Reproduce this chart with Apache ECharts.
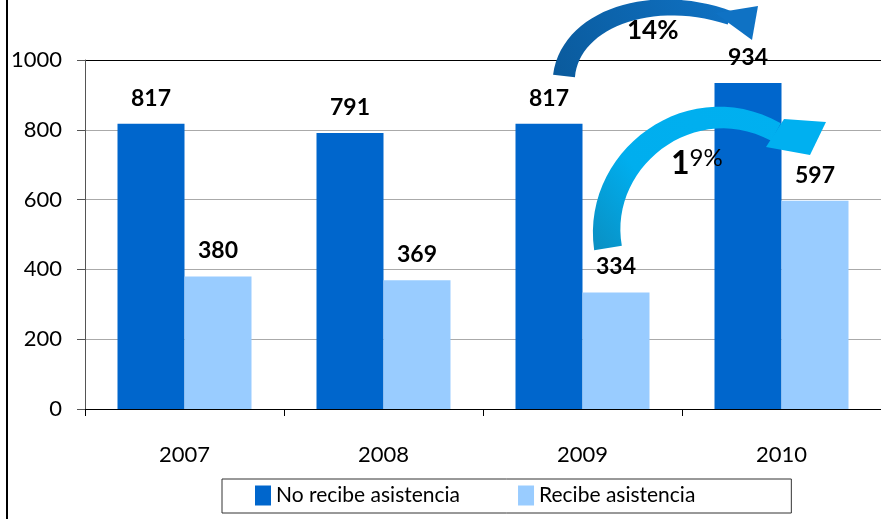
<!DOCTYPE html>
<html>
<head>
<meta charset="utf-8">
<script src="https://cdn.jsdelivr.net/npm/echarts@6/dist/echarts.min.js"></script>
<style>
  html, body { margin: 0; padding: 0; background: #fff; }
  #chart { width: 881px; height: 519px; }
</style>
</head>
<body>
<div id="chart"></div>
<script>
// data
const years = ['2007', '2008', '2009', '2010'];
const noRecibe = [817, 791, 817, 934];
const recibe = [380, 369, 334, 597];
const seriesNames = ['No recibe asistencia', 'Recibe asistencia'];
const yTicks = [0, 200, 400, 600, 800, 1000];

const FONT = 'Lato, "Liberation Sans", sans-serif';

// curved arrow band along a cubic bezier, widths tapering w0 -> w1
function band(p0, p1, p2, p3, w0, w1) {
  let left = [], right = [];
  const n = 30;
  for (let i = 0; i <= n; i++) {
    let t = i / n, u = 1 - t;
    let x = u*u*u*p0[0] + 3*u*u*t*p1[0] + 3*u*t*t*p2[0] + t*t*t*p3[0];
    let y = u*u*u*p0[1] + 3*u*u*t*p1[1] + 3*u*t*t*p2[1] + t*t*t*p3[1];
    let dx = 3*u*u*(p1[0]-p0[0]) + 6*u*t*(p2[0]-p1[0]) + 3*t*t*(p3[0]-p2[0]);
    let dy = 3*u*u*(p1[1]-p0[1]) + 6*u*t*(p2[1]-p1[1]) + 3*t*t*(p3[1]-p2[1]);
    let len = Math.sqrt(dx*dx + dy*dy) || 1;
    let w = (w0 + (w1 - w0) * t) / 2;
    let nx = -dy / len * w, ny = dx / len * w;
    left.push([x + nx, y + ny]);
    right.push([x - nx, y - ny]);
  }
  return left.concat(right.reverse());
}

let chart = echarts.init(document.getElementById('chart'));
let option = {
  animation: false,
  textStyle: { fontFamily: FONT },
  grid: { left: 85, right: -2, top: 60, bottom: 110 },
  legend: {
    left: 222, top: 479,
    padding: [6, 96, 7, 33],
    itemGap: 58,
    itemWidth: 16, itemHeight: 20,
    borderColor: '#333', borderWidth: 1,
    icon: 'rect',
    textStyle: { fontSize: 21, color: '#000', fontFamily: FONT },
    data: seriesNames
  },
  xAxis: {
    type: 'category',
    data: years,
    axisLine: { lineStyle: { color: '#000', width: 1 } },
    axisTick: { show: true, length: 7, lineStyle: { color: '#000' } },
    axisLabel: { fontSize: 22, color: '#000', margin: 35 }
  },
  yAxis: {
    type: 'value',
    min: yTicks[0], max: yTicks[yTicks.length - 1], interval: 200,
    axisLine: { show: true, lineStyle: { color: '#555' } },
    axisTick: { show: true, length: 8, lineStyle: { color: '#555' } },
    axisLabel: { fontSize: 22, color: '#000', margin: 23, formatter: v => String(v) },
    splitLine: { lineStyle: { color: ['#000', '#aaa', '#aaa', '#aaa', '#aaa', '#000'] } }
  },
  series: [
    {
      name: seriesNames[0], type: 'bar', data: noRecibe,
      barWidth: 67, barGap: '0%',
      itemStyle: { color: '#0066CC' },
      label: { show: true, position: 'top', distance: 14, fontSize: 23, fontWeight: 'bold', color: '#000' }
    },
    {
      name: seriesNames[1], type: 'bar', data: recibe,
      barWidth: 67,
      itemStyle: { color: '#99CCFF' },
      label: { show: true, position: 'top', distance: 14, fontSize: 23, fontWeight: 'bold', color: '#000' }
    }
  ],
  graphic: [
    { type: 'line', shape: { x1: 7, y1: 0, x2: 7, y2: 519 }, style: { stroke: '#000', lineWidth: 2 } },
    {
      type: 'polygon', z: 100,
      shape: { points: band([564, 76], [570, 20], [650, -10], [730, 18], 22, 14) },
      style: { fill: new echarts.graphic.LinearGradient(0, 1, 1, 0, [
        { offset: 0, color: '#0A5A9C' }, { offset: 1, color: '#0F72C4' }]) }
    },
    {
      type: 'polygon', z: 100,
      shape: { points: [[715, 13], [758, 6], [752, 40]] },
      style: { fill: '#0F72C4' }
    },
    {
      type: 'polygon', z: 100,
      shape: { points: band([608, 248], [594, 160], [690, 85], [776, 132], 28, 20) },
      style: { fill: new echarts.graphic.LinearGradient(0, 1, 1, 0, [
        { offset: 0, color: '#0A8FC2' }, { offset: 0.35, color: '#00AEEE' }, { offset: 1, color: '#00B0F0' }]) }
    },
    {
      type: 'polygon', z: 100,
      shape: { points: [[784, 119], [826, 122], [810, 155], [766, 147]] },
      style: { fill: '#00B0F0' }
    },
    {
      type: 'text', z: 110, left: 627, top: 18,
      style: { text: '14%', fontSize: 26, fontWeight: 'bold', fill: '#000', fontFamily: FONT }
    },
    {
      type: 'text', z: 110, left: 671, top: 146,
      style: {
        text: '{a|1}{b|9%}',
        fontFamily: FONT,
        rich: {
          a: { fontSize: 32, fontWeight: 'bold', fill: '#000', fontFamily: FONT },
          b: { fontSize: 24, fill: '#000', fontFamily: FONT, verticalAlign: 'top', padding: [0, 0, 12, 0] }
        }
      }
    }
  ]
};
chart.setOption(option);
</script>
</body>
</html>
